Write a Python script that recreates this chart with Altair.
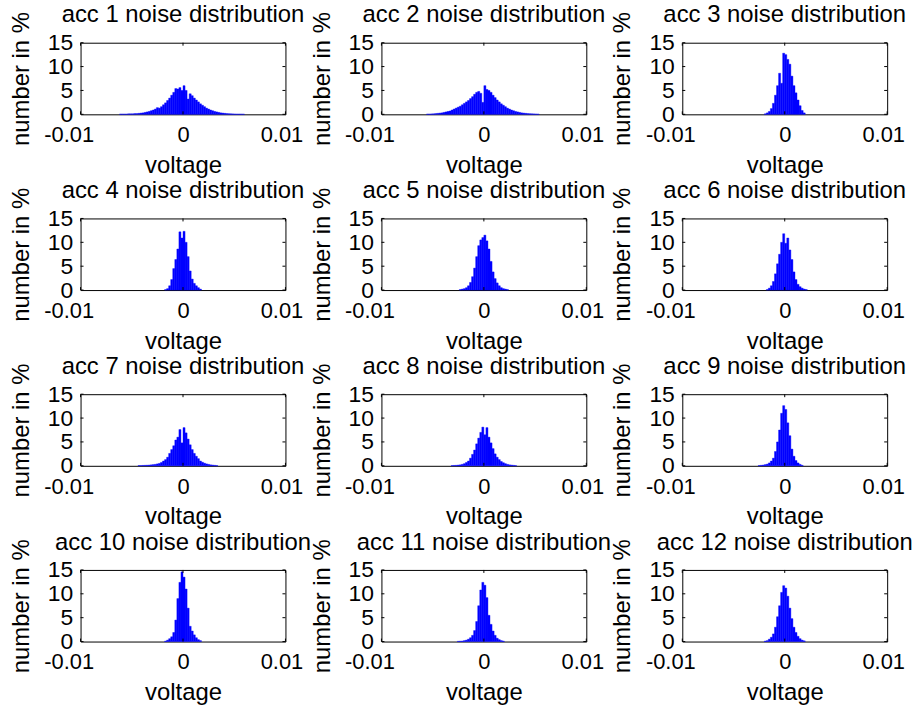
import altair as alt
import pandas as pd

BIN = 0.0002
W, H = 206, 72
FONT = "Liberation Sans"

titles = [f"acc {i} noise distribution" for i in range(1, 13)]
x_ticks = [-0.01, 0, 0.01]
y_ticks = [0, 5, 10, 15]

# first bin centre of each panel
starts = [-0.0061, -0.0055, -0.0019, -0.0017, -0.0023, -0.0017,
          -0.0043, -0.0031, -0.0025, -0.0017, -0.0025, -0.0019]

h1 = [0.05, 0.05, 0.05, 0.05, 0.1, 0.1, 0.1, 0.15, 0.15, 0.2, 0.25, 0.3, 0.4, 0.5, 0.6,
      0.75, 0.9, 1.1, 1.4, 1.3, 1.6, 2.0, 2.4, 2.9, 3.4, 4.0, 4.6, 5.4, 5.3, 5.6, 5.0,
      6.0, 5.0, 3.2, 4.3, 3.9, 3.4, 3.0, 2.6, 2.2, 1.9, 1.6, 1.3, 1.1, 0.9, 0.75, 0.6,
      0.5, 0.4, 0.3, 0.25, 0.2, 0.15, 0.12, 0.1, 0.08, 0.06, 0.05, 0.05, 0.04, 0.03]
h2 = [0.05, 0.05, 0.08, 0.1, 0.15, 0.2, 0.25, 0.3, 0.4, 0.5, 0.6, 0.7, 0.9, 1.1, 1.3,
      1.5, 1.7, 2.0, 2.3, 2.6, 2.9, 3.3, 3.7, 4.2, 4.6, 4.8, 4.4, 2.5, 6.0, 5.2, 5.0,
      4.6, 4.0, 3.5, 3.0, 2.6, 2.2, 1.9, 1.6, 1.3, 1.1, 0.9, 0.75, 0.6, 0.5, 0.4, 0.3,
      0.25, 0.2, 0.15, 0.12, 0.1, 0.08, 0.06, 0.04]
h3 = [0.1, 0.3, 0.6, 1.2, 2.3, 4.0, 6.0, 8.6, 6.5, 12.8, 12.5, 11.5, 10.5, 8.0, 6.0,
      4.5, 3.0, 1.8, 0.8, 0.3]
h4 = [0.1, 0.3, 0.9, 2.2, 4.5, 6.4, 8.6, 12.2, 10.9, 12.3, 10.0, 7.0, 4.0, 2.3, 1.4,
      0.9, 0.5, 0.2]
h5 = [0.1, 0.2, 0.3, 0.5, 0.9, 1.6, 2.8, 4.6, 7.0, 9.3, 10.5, 11.0, 11.5, 10.3, 8.6,
      6.0, 3.8, 2.4, 1.5, 0.9, 0.5, 0.3, 0.2, 0.1]
h6 = [0.1, 0.4, 0.9, 1.8, 3.4, 5.5, 7.5, 10.0, 11.8, 9.8, 10.9, 8.4, 6.4, 3.8, 2.2,
      1.2, 0.7, 0.4, 0.2, 0.1]
h7 = [0.05, 0.05, 0.08, 0.1, 0.12, 0.15, 0.2, 0.25, 0.3, 0.4, 0.5, 0.7, 1.0, 1.3, 1.8,
      2.6, 3.4, 4.2, 5.4, 6.0, 7.6, 4.8, 8.0, 6.9, 5.6, 4.4, 3.4, 2.6, 2.0, 1.5, 1.0,
      0.75, 0.55, 0.4, 0.3, 0.2, 0.15, 0.1, 0.05]
h8 = [0.05, 0.08, 0.1, 0.15, 0.2, 0.3, 0.45, 0.7, 1.0, 1.6, 2.4, 3.3, 4.6, 5.8, 7.0,
      8.1, 6.5, 8.0, 6.0, 4.8, 3.6, 2.5, 1.8, 1.3, 0.9, 0.65, 0.45, 0.3, 0.2, 0.15,
      0.1, 0.05]
h9 = [0.05, 0.1, 0.15, 0.25, 0.35, 0.6, 1.0, 1.6, 3.0, 5.0, 7.5, 11.0, 12.6, 11.8, 9.0,
      6.3, 3.5, 2.0, 1.1, 0.6, 0.3, 0.1]
h10 = [0.1, 0.3, 0.6, 1.0, 1.9, 4.5, 9.0, 12.4, 14.6, 13.5, 11.0, 7.0, 3.2, 2.2, 1.4,
       0.8, 0.4, 0.2]
h11 = [0.05, 0.08, 0.1, 0.2, 0.3, 0.5, 0.8, 1.3, 2.3, 4.2, 7.5, 10.8, 12.4, 11.8, 9.2,
       5.5, 3.6, 2.2, 1.3, 0.7, 0.4, 0.2, 0.1]
h12 = [0.1, 0.2, 0.5, 0.9, 1.6, 3.0, 5.2, 7.5, 10.3, 11.7, 11.2, 9.5, 7.0, 4.8, 3.0,
       1.9, 1.1, 0.6, 0.3, 0.15]

heights = [h1, h2, h3, h4, h5, h6, h7, h8, h9, h10, h11, h12]

rows = []
for k, (s, hs) in enumerate(zip(starts, heights)):
    for i, h in enumerate(hs):
        c = s + i * BIN
        rows.append({"panel": k + 1, "x0": c - BIN / 2, "x1": c + BIN / 2, "pct": h})
df = pd.DataFrame(rows)
xt = pd.DataFrame({"v": x_ticks})
yt = pd.DataFrame({"v": y_ticks})

xscale = alt.Scale(domain=[-0.01, 0.01], nice=False, zero=False)
yscale = alt.Scale(domain=[0, 15], nice=False)

xaxis = alt.Axis(values=x_ticks, title="voltage",
                 labelExpr="datum.value < 0 ? '-0.01' : (datum.value > 0 ? '0.01' : '0')",
                 labelOffset={"condition": [{"test": "datum.value < 0", "value": -12},
                                            {"test": "datum.value > 0", "value": -4}],
                              "value": 0},
                 labelFontSize=22, labelFlush=False, labelPadding=10.5, titlePadding=8)
yaxis = alt.Axis(values=y_ticks, title="number in %", labelPadding=8, titlePadding=14)


def panel(k):
    bars = alt.Chart(df).transform_filter(alt.datum.panel == k).mark_bar(
        color="#0000ff", stroke="#0000ff", strokeWidth=0.4
    ).encode(
        x=alt.X("x0:Q", scale=xscale, axis=xaxis),
        x2="x1:Q",
        y=alt.Y("pct:Q", scale=yscale, axis=yaxis),
        y2=alt.datum(0),
    )
    xt_top = alt.Chart(xt).mark_rule(color="black").encode(
        x=alt.X("v:Q", scale=xscale, axis=xaxis), y=alt.value(0), y2=alt.value(3))
    xt_bot = alt.Chart(xt).mark_rule(color="black").encode(
        x=alt.X("v:Q", scale=xscale, axis=xaxis), y=alt.value(H), y2=alt.value(H - 3))
    yt_l = alt.Chart(yt).mark_rule(color="black").encode(
        y=alt.Y("v:Q", scale=yscale, axis=yaxis), x=alt.value(0), x2=alt.value(3))
    yt_r = alt.Chart(yt).mark_rule(color="black").encode(
        y=alt.Y("v:Q", scale=yscale, axis=yaxis), x=alt.value(W), x2=alt.value(W - 3))
    return alt.layer(bars, xt_top, xt_bot, yt_l, yt_r).properties(
        width=W, height=H,
        title=alt.TitleParams(titles[k - 1], fontSize=24, font=FONT, fontWeight="normal",
                              anchor="middle", baseline="alphabetic", offset=-35,
                              color="black"),
    )


panels = [panel(k) for k in range(1, 13)]

chart = alt.concat(*panels, columns=3, spacing={"row": 104.7, "column": 96.5},
                   bounds="flush").properties(
    padding={"left": 8, "top": 1, "right": 5, "bottom": 5},
    background="white",
).configure_view(
    stroke="black", strokeWidth=1
).configure_axis(
    labelFont=FONT, titleFont=FONT, labelFontSize=23, titleFontSize=24,
    titleFontWeight="normal", labelColor="black", titleColor="black",
    grid=False, domain=False, ticks=False, tickSize=0,
)

chart.save("out.html", embed_options={"renderer": "svg", "actions": False})
